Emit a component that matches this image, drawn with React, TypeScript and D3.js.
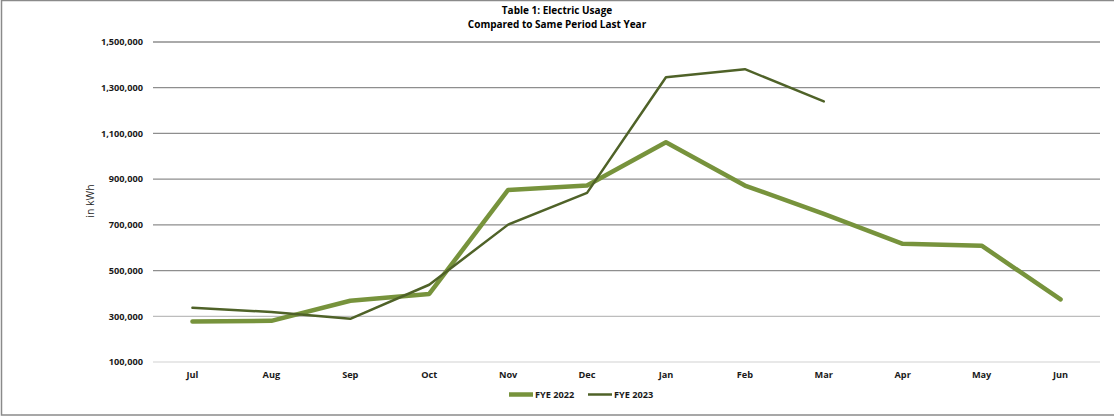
import React from "react";
import * as d3 from "d3";

const months = ["Jul", "Aug", "Sep", "Oct", "Nov", "Dec", "Jan", "Feb", "Mar", "Apr", "May", "Jun"];
const fye2022 = [277000, 280000, 368000, 398000, 853000, 872000, 1061000, 872000, 748000, 617000, 609000, 374000];
const fye2023 = [337000, 319000, 289000, 438000, 701000, 840000, 1346000, 1381000, 1240000];
const yTicks = [100000, 300000, 500000, 700000, 900000, 1100000, 1300000, 1500000];
const seriesNames = ["FYE 2022", "FYE 2023"];

const W = 1114;
const H = 418;
const FONT = "'Open Sans', 'Liberation Sans', sans-serif";

export default function App() {
  const x = d3.scaleBand<string>().domain(months).range([153, 1100]);
  const y = d3.scaleLinear().domain([100000, 1500000]).range([362, 42]);
  const cx = (m: string) => (x(m) as number) + x.bandwidth() / 2;
  const line = d3
    .line<number>()
    .x((_, i) => cx(months[i]))
    .y((d) => y(d));
  const fmt = d3.format(",");
  const gridColor = (v: number) => (v === 100000 ? "#e0e0e0" : v === 300000 ? "#bdbdbd" : "#8e8e8e");
  const colors = ["#77933C", "#4F6228"];
  const widths = [4.5, 2.5];
  const data = [fye2022, fye2023];

  return (
    <svg
      width={W}
      height={H}
      style={{ position: "absolute", left: 0, top: 0, background: "#fff" }}
      fontFamily={FONT}
    >
      <rect x={1.5} y={0.5} width={W + 10} height={414.5} fill="#fff" stroke="#8a8a8a" strokeWidth={1.5} />
      <text x={557} y={14} textAnchor="middle" fontSize={10} fontWeight="bold" fill="#000">
        Table 1: Electric Usage
      </text>
      <text x={557} y={28} textAnchor="middle" fontSize={10} fontWeight="bold" fill="#000">
        Compared to Same Period Last Year
      </text>
      {yTicks.map((t) => (
        <g key={t}>
          <line x1={153} x2={1100} y1={y(t)} y2={y(t)} stroke={gridColor(t)} strokeWidth={1.3} />
          <text x={143} y={y(t) + 3.3} textAnchor="end" fontSize={9.2} fontWeight="bold" fill="#1a1a1a">
            {fmt(t)}
          </text>
        </g>
      ))}
      {months.map((m) => (
        <text key={m} x={cx(m)} y={378} textAnchor="middle" fontSize={9.2} fontWeight="bold" fill="#1a1a1a">
          {m}
        </text>
      ))}
      <text
        transform={`translate(94,201) rotate(-90)`}
        textAnchor="middle"
        fontSize={10.5}
        fill="#262626"
      >
        in kWh
      </text>
      {data.map((d, i) => (
        <path
          key={i}
          d={line(d) as string}
          fill="none"
          stroke={colors[i]}
          strokeWidth={widths[i]}
          strokeLinejoin="round"
          strokeLinecap="round"
        />
      ))}
      {seriesNames.map((n, i) => {
        const x0 = i === 0 ? 509 : 588;
        return (
          <g key={n}>
            <line x1={x0} x2={x0 + 24} y1={394.5} y2={394.5} stroke={colors[i]} strokeWidth={widths[i]} />
            <text x={x0 + 26} y={398} fontSize={9.2} fontWeight="bold" fill="#1a1a1a">
              {n}
            </text>
          </g>
        );
      })}
    </svg>
  );
}
